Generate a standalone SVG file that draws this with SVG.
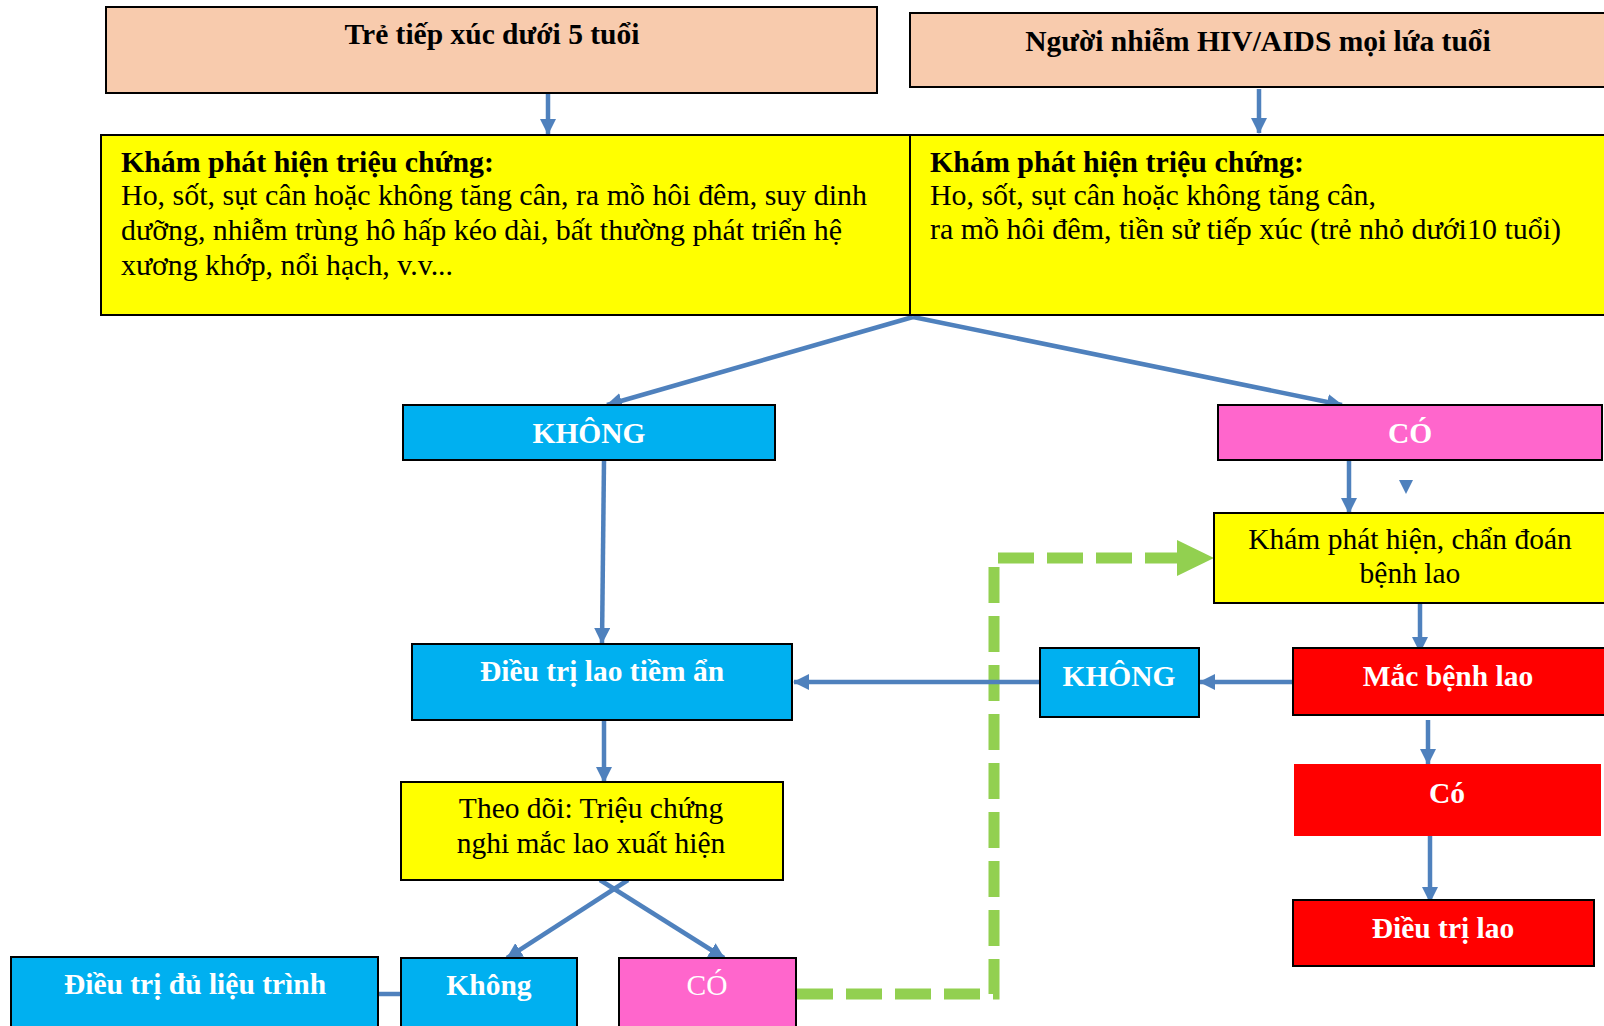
<svg xmlns="http://www.w3.org/2000/svg" width="1604" height="1026" viewBox="0 0 1604 1026">
<style>
.box{stroke:#000;stroke-width:2}
.peach{fill:#F8CBAD}
.yel{fill:#FFFF00}
.cyan{fill:#00B0F0}
.pink{fill:#FF66CC}
.red{fill:#FF0000}
text{font-family:"Liberation Serif","Times New Roman",serif;font-size:29.5px}
.b{font-weight:bold}
.w{fill:#fff}
.k{fill:#000}
.c{text-anchor:middle}
.conn{stroke:#4F81BD;stroke-width:4.5;fill:none}
.green{stroke:#92D050;stroke-width:11;fill:none;stroke-dasharray:36 13}
</style>
<defs>
<marker id="arr" markerUnits="userSpaceOnUse" markerWidth="16" markerHeight="16" refX="15" refY="8" orient="auto" viewBox="0 0 16 16">
<path d="M0,0 L16,8 L0,16 z" fill="#4F81BD"/>
</marker>
</defs>

<g id="connectors">
<path class="green" d="M797,994 H994 V558 H1180"/>
<polygon points="1177,540 1214,558 1177,576" fill="#92D050"/>
<line class="conn" x1="548" y1="94" x2="548" y2="134" marker-end="url(#arr)"/>
<line class="conn" x1="1259" y1="89" x2="1259" y2="133" marker-end="url(#arr)"/>
<line class="conn" x1="913" y1="317" x2="607" y2="405" marker-end="url(#arr)"/>
<line class="conn" x1="913" y1="317" x2="1342" y2="405" marker-end="url(#arr)"/>
<line class="conn" x1="604" y1="461" x2="602" y2="643" marker-end="url(#arr)"/>
<line class="conn" x1="1349" y1="461" x2="1349" y2="513" marker-end="url(#arr)"/>
<polygon points="1399,480 1413,480 1406,494" fill="#4F81BD"/>
<line class="conn" x1="1420" y1="604" x2="1420" y2="652" marker-end="url(#arr)"/>
<line class="conn" x1="1293" y1="682" x2="1200" y2="682" marker-end="url(#arr)"/>
<line class="conn" x1="1040" y1="682" x2="794" y2="682" marker-end="url(#arr)"/>
<line class="conn" x1="604" y1="720" x2="604" y2="782" marker-end="url(#arr)"/>
<line class="conn" x1="1428" y1="720" x2="1428" y2="764" marker-end="url(#arr)"/>
<line class="conn" x1="1430" y1="834" x2="1430" y2="902" marker-end="url(#arr)"/>
<line class="conn" x1="628" y1="880" x2="507" y2="958" marker-end="url(#arr)"/>
<line class="conn" x1="600" y1="880" x2="724" y2="958" marker-end="url(#arr)"/>
<line class="conn" x1="378" y1="994" x2="401" y2="994"/>
</g>

<g id="n-tre">
<rect class="box peach" x="106" y="7" width="771" height="86"/>
<text class="b k c" x="492" y="44">Trẻ tiếp xúc dưới 5 tuổi</text>
</g>
<g id="n-hiv">
<rect class="box peach" x="910" y="13" width="700" height="74"/>
<text class="b k c" x="1258" y="51">Người nhiễm HIV/AIDS mọi lứa tuổi</text>
</g>
<g id="n-kham-left">
<rect class="box yel" x="101" y="135" width="809" height="180"/>
<text class="b k" x="121" y="172" textLength="373" lengthAdjust="spacingAndGlyphs">Khám phát hiện triệu chứng:</text>
<text class="k" x="121" y="205" textLength="746" lengthAdjust="spacingAndGlyphs">Ho, sốt, sụt cân hoặc không tăng cân, ra mồ hôi đêm, suy dinh</text>
<text class="k" x="121" y="240" textLength="721" lengthAdjust="spacingAndGlyphs">dưỡng, nhiễm trùng hô hấp kéo dài, bất thường phát triển hệ</text>
<text class="k" x="121" y="275" textLength="332" lengthAdjust="spacingAndGlyphs">xương khớp, nổi hạch, v.v...</text>
</g>
<g id="n-kham-right">
<rect class="box yel" x="910" y="135" width="700" height="180"/>
<text class="b k" x="930" y="172" textLength="374" lengthAdjust="spacingAndGlyphs">Khám phát hiện triệu chứng:</text>
<text class="k" x="930" y="205" textLength="446" lengthAdjust="spacingAndGlyphs">Ho, sốt, sụt cân hoặc không tăng cân,</text>
<text class="k" x="930" y="239" textLength="631" lengthAdjust="spacingAndGlyphs">ra mồ hôi đêm, tiền sử tiếp xúc (trẻ nhỏ dưới10 tuổi)</text>
</g>
<g id="n-khong1">
<rect class="box cyan" x="403" y="405" width="372" height="55"/>
<text class="b w c" x="589" y="443">KHÔNG</text>
</g>
<g id="n-co1">
<rect class="box pink" x="1218" y="405" width="384" height="55"/>
<text class="b w c" x="1410" y="443">CÓ</text>
</g>
<g id="n-chandoan">
<rect class="box yel" x="1214" y="513" width="396" height="90"/>
<text class="k c" x="1410" y="549">Khám phát hiện, chẩn đoán</text>
<text class="k c" x="1410" y="583">bệnh lao</text>
</g>
<g id="n-tiemAn">
<rect class="box cyan" x="412" y="644" width="380" height="76"/>
<text class="b w c" x="602" y="681">Điều trị lao tiềm ẩn</text>
</g>
<g id="n-khong2">
<rect class="box cyan" x="1040" y="648" width="159" height="69"/>
<text class="b w c" x="1119" y="686">KHÔNG</text>
</g>
<g id="n-macbenh">
<rect class="box red" x="1293" y="648" width="312" height="67"/>
<text class="b w c" x="1448" y="686">Mắc bệnh lao</text>
</g>
<g id="n-co2">
<rect class="red" x="1294" y="764" width="307" height="72"/>
<text class="b w c" x="1447" y="803">Có</text>
</g>
<g id="n-dieutrilao">
<rect class="box red" x="1293" y="900" width="301" height="66"/>
<text class="b w c" x="1443" y="938">Điều trị lao</text>
</g>
<g id="n-theodoi">
<rect class="box yel" x="401" y="782" width="382" height="98"/>
<text class="k c" x="591" y="818">Theo dõi: Triệu chứng</text>
<text class="k c" x="591" y="853">nghi mắc lao xuất hiện</text>
</g>
<g id="n-dulieutrinh">
<rect class="box cyan" x="11" y="957" width="367" height="80"/>
<text class="b w c" x="195" y="994">Điều trị đủ liệu trình</text>
</g>
<g id="n-khong3">
<rect class="box cyan" x="401" y="958" width="176" height="80"/>
<text class="b w c" x="489" y="995">Không</text>
</g>
<g id="n-co3">
<rect class="box pink" x="619" y="958" width="177" height="80"/>
<text class="w c" x="707" y="995">CÓ</text>
</g>
</svg>
